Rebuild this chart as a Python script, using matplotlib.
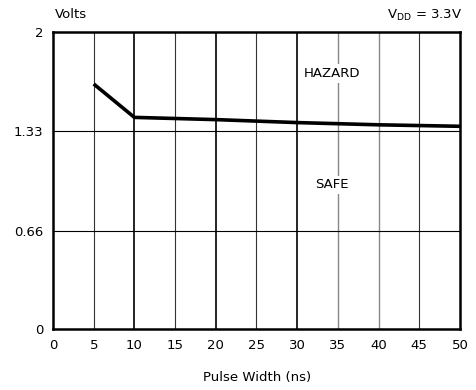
import matplotlib
matplotlib.use("Agg")
import matplotlib.pyplot as plt

pulse_width = [5, 10, 20, 30, 40, 50]
volts = [1.65, 1.425, 1.41, 1.39, 1.375, 1.365]
x_ticks = [0, 5, 10, 15, 20, 25, 30, 35, 40, 45, 50]
y_ticks = [0, 0.66, 1.33, 2]
y_tick_labels = ["0", "0.66", "1.33", "2"]

plt.rcParams['font.family'] = ['DejaVu Sans']
fig = plt.figure(figsize=(4.77, 3.9), dpi=100)
ax = fig.add_axes([53/477, 1-329/390, (460-53)/477, (329-32)/390])
ax.set_xlim(0, 50)
ax.set_ylim(0, 2)

for xv in x_ticks[1:-1]:
    if xv in (10, 20, 30):
        ax.axvline(xv, color='black', lw=1.2, zorder=1)
    elif xv in (35, 40):
        ax.axvline(xv, color='#888888', lw=1.0, zorder=1)
    else:
        ax.axvline(xv, color='#333333', lw=0.8, zorder=1)
for yv in y_ticks[1:-1]:
    ax.axhline(yv, color='black', lw=0.8, zorder=1)

ax.plot(pulse_width, volts, color='black', lw=2.6, solid_capstyle='butt', zorder=3)

ax.set_xticks(x_ticks)
ax.set_xticklabels([str(v) for v in x_ticks], fontsize=9.5)
ax.set_yticks(y_ticks)
ax.set_yticklabels(y_tick_labels, fontsize=9.5)
ax.tick_params(length=0, pad=7)
for s in ax.spines.values():
    s.set_linewidth(1.8)

ax.text(34.3, 1.72, "HAZARD", ha='center', va='center', fontsize=9.5,
        bbox=dict(facecolor='white', edgecolor='none', pad=2), zorder=4)
ax.text(34.3, 0.97, "SAFE", ha='center', va='center', fontsize=9.5,
        bbox=dict(facecolor='white', edgecolor='none', pad=2), zorder=4)

fig.text(55/477, 1-15/390, "Volts", ha='left', va='center', fontsize=9.5)
fig.text(462/477, 1-15/390, r"V$_{\mathregular{DD}}$ = 3.3V", ha='right', va='center', fontsize=9.5)
fig.text(257/477, 1-378/390, "Pulse Width (ns)", ha='center', va='center', fontsize=9.5)

fig.savefig("out.png", dpi=100)
